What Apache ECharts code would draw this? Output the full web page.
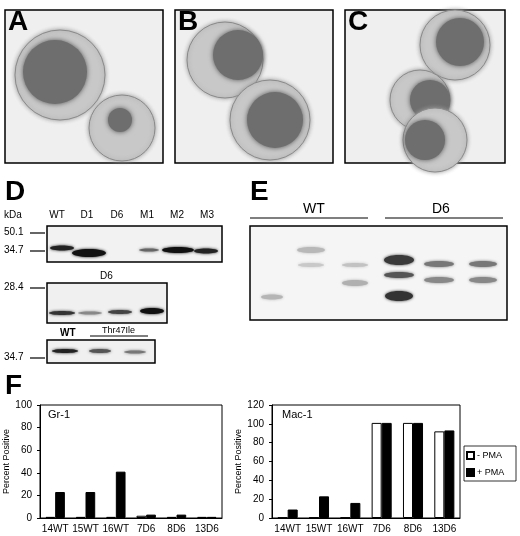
<!DOCTYPE html>
<html><head><meta charset="utf-8">
<script src="https://cdn.jsdelivr.net/npm/echarts@6/dist/echarts.min.js"></script>
<style>html,body{margin:0;background:#fff}#c{width:520px;height:536px}</style>
</head><body><div id="c"></div>
<script>
var categories = ['14WT', '15WT', '16WT', '7D6', '8D6', '13D6'];
var gr1Minus = [1, 1, 1, 2, 1, 1];
var gr1Plus = [23, 23, 41, 3, 3, 1];
var mac1Minus = [0.5, 0.5, 0.5, 101, 101, 92];
var mac1Plus = [9, 23, 16, 101, 101, 93];
var laneLabels = ['WT', 'D1', 'D6', 'M1', 'M2', 'M3'];

var chart = echarts.init(document.getElementById('c'));
var F = 'Liberation Sans, Arial, sans-serif';

function txt(x, y, s, size, bold, extra) {
  return Object.assign({type: 'text', x: x, y: y, style: {text: s, font: (bold ? 'bold ' : '') + size + 'px ' + F, fill: '#000'}}, extra || {});
}
function box(x, y, w, h, fill) {
  return {type: 'rect', shape: {x: x, y: y, width: w, height: h}, style: {fill: fill || '#fff', stroke: '#000', lineWidth: 1.5}};
}
function line(x1, y1, x2, y2) {
  return {type: 'line', shape: {x1: x1, y1: y1, x2: x2, y2: y2}, style: {stroke: '#000', lineWidth: 1.2}};
}
function band(x, y, w, h, c) {
  return {type: 'ellipse', shape: {cx: x, cy: y, rx: w / 2, ry: h / 2}, style: {fill: c, shadowBlur: 3, shadowColor: c}};
}
function cell(cx, cy, r, nx, ny, nr) {
  return [
    {type: 'circle', shape: {cx: cx, cy: cy, r: r}, style: {fill: '#c8c8c8', stroke: '#8a8a8a', lineWidth: 1, shadowBlur: 4, shadowColor: '#999'}},
    {type: 'circle', shape: {cx: nx, cy: ny, r: nr}, style: {fill: '#6e6e6e', shadowBlur: 5, shadowColor: '#555'}}
  ];
}

var g = [];
// panels A-C
g.push(box(5, 10, 158, 153, '#efefef'), box(175, 10, 158, 153, '#efefef'), box(345, 10, 160, 153, '#efefef'));
g = g.concat(cell(60, 75, 45, 55, 72, 32), cell(122, 128, 33, 120, 120, 12));
g = g.concat(cell(225, 60, 38, 238, 55, 25), cell(270, 120, 40, 275, 120, 28));
g = g.concat(cell(455, 45, 35, 460, 42, 24), cell(420, 100, 30, 430, 100, 20), cell(435, 140, 32, 425, 140, 20));
g.push(txt(8, 8, 'A', 28, true), txt(178, 8, 'B', 28, true), txt(348, 8, 'C', 28, true));

// panel D
g.push(txt(5, 178, 'D', 28, true), txt(4, 210, 'kDa', 10, false));
laneLabels.forEach(function (s, i) { g.push(txt(57 + i * 30, 210, s, 10, false, {style: {text: s, font: '10px ' + F, fill: '#000', align: 'center'}})); });
g.push(box(47, 226, 175, 36, '#f2f2f2'));
g.push(band(62, 248, 24, 5, '#222'), band(89, 253, 34, 8, '#111'), band(149, 250, 20, 3, '#666'), band(178, 250, 32, 6, '#111'), band(206, 251, 24, 5, '#222'));
g.push(txt(4, 227, '50.1', 10, false), line(30, 233, 45, 233), txt(4, 245, '34.7', 10, false), line(30, 251, 45, 251));
g.push(txt(100, 271, 'D6', 10, false), box(47, 283, 120, 40, '#f0f0f0'));
g.push(band(62, 313, 26, 4, '#333'), band(90, 313, 24, 3, '#888'), band(120, 312, 24, 4, '#444'), band(152, 311, 24, 6, '#111'));
g.push(txt(4, 282, '28.4', 10, false), line(30, 288, 45, 288));
g.push(txt(60, 328, 'WT', 10, true), txt(102, 326, 'Thr47Ile', 9, false), line(90, 336, 148, 336));
g.push(box(47, 340, 108, 23, '#f0f0f0'), band(65, 351, 26, 4, '#222'), band(100, 351, 22, 4, '#555'), band(135, 352, 22, 3, '#777'));
g.push(txt(4, 352, '34.7', 10, false), line(30, 358, 45, 358));

// panel E
g.push(txt(250, 178, 'E', 28, true), txt(303, 202, 'WT', 14, false), txt(432, 202, 'D6', 14, false));
g.push(line(250, 218, 368, 218), line(385, 218, 503, 218), box(250, 226, 257, 94, '#f5f5f5'));
g.push(band(272, 297, 22, 5, '#b5b5b5'), band(311, 250, 28, 6, '#b8b8b8'), band(311, 265, 26, 4, '#c8c8c8'), band(355, 265, 26, 4, '#c2c2c2'), band(355, 283, 26, 6, '#b0b0b0'));
g.push(band(399, 260, 30, 10, '#3a3a3a'), band(399, 275, 30, 6, '#555'), band(399, 296, 28, 10, '#333'), band(439, 264, 30, 6, '#777'), band(439, 280, 30, 6, '#888'), band(483, 264, 28, 6, '#777'), band(483, 280, 28, 6, '#888'));

// panel F
g.push(txt(5, 372, 'F', 28, true), txt(48, 409, 'Gr-1', 11, false), txt(282, 409, 'Mac-1', 11, false));
g.push({type: 'rect', shape: {x: 464, y: 446, width: 52, height: 35}, style: {fill: '#fff', stroke: '#000', lineWidth: 0.8}});

var axisCommon = {
  axisLine: {show: true, lineStyle: {color: '#000'}},
  axisTick: {show: true, length: 3, lineStyle: {color: '#000'}},
  axisLabel: {color: '#000', fontSize: 10, fontFamily: F},
  splitLine: {show: false}
};
function yAx(gi, max, iv) {
  return Object.assign({type: 'value', gridIndex: gi, min: 0, max: max, interval: iv,
    name: 'Percent Positive', nameLocation: 'middle', nameGap: 24, nameRotate: 90,
    nameTextStyle: {color: '#000', fontSize: 9, fontFamily: F}}, axisCommon);
}
function xAx(gi) {
  return Object.assign({type: 'category', gridIndex: gi, data: categories}, axisCommon, {axisTick: {show: false}, axisLabel: {color: '#000', fontSize: 10, fontFamily: F, interval: 0, margin: 6}});
}
function bars(name, data, gi, fill) {
  return {name: name, type: 'bar', xAxisIndex: gi, yAxisIndex: gi, data: data, barGap: '0%', barCategoryGap: '36%',
    itemStyle: {color: fill, borderColor: '#000', borderWidth: 1}};
}

chart.setOption({
  animation: false,
  textStyle: {fontFamily: F},
  grid: [
    {left: 40, top: 405, width: 182, height: 113, show: true, borderColor: '#000', borderWidth: 1},
    {left: 272, top: 405, width: 188, height: 113, show: true, borderColor: '#000', borderWidth: 1}
  ],
  xAxis: [xAx(0), xAx(1)],
  yAxis: [yAx(0, 100, 20), yAx(1, 120, 20)],
  legend: {data: ['- PMA', '+ PMA'], orient: 'vertical', left: 466, top: 451, icon: 'rect', itemWidth: 7, itemHeight: 7, itemGap: 8,
    padding: 0, textStyle: {fontSize: 9, color: '#000', padding: [0, 0, 0, -2]}},
  series: [
    bars('- PMA', gr1Minus, 0, '#fff'), bars('+ PMA', gr1Plus, 0, '#000'),
    bars('- PMA', mac1Minus, 1, '#fff'), bars('+ PMA', mac1Plus, 1, '#000')
  ],
  graphic: {elements: g}
});
</script></body></html>
